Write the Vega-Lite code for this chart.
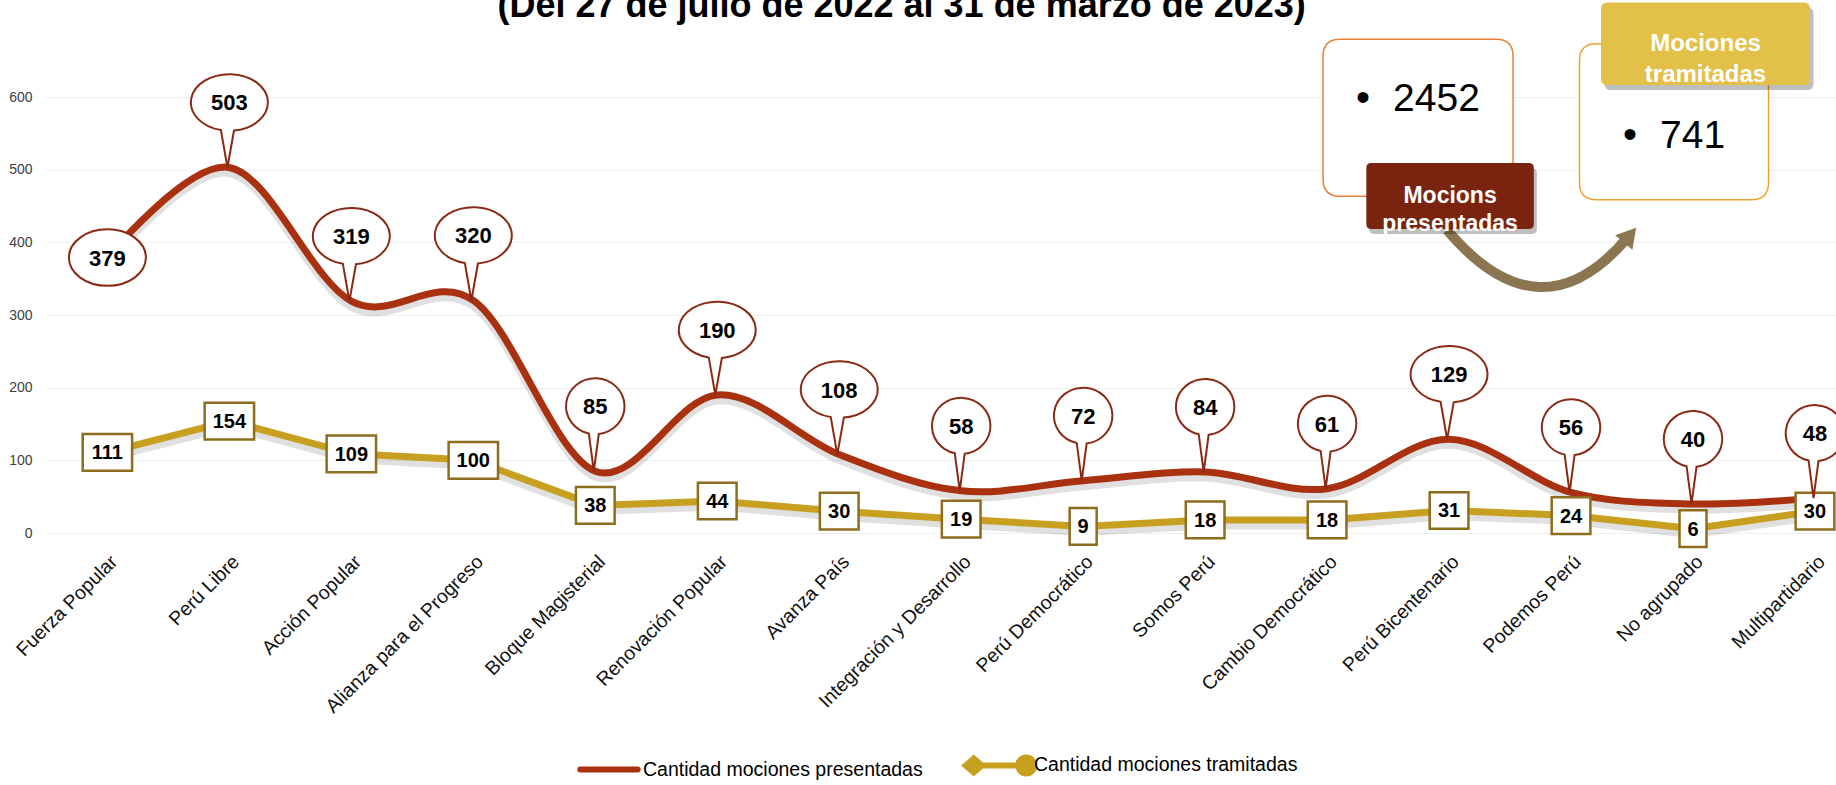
{
  "$schema": "https://vega.github.io/schema/vega-lite/v6.json",
  "width": 1791,
  "height": 436,
  "autosize": {"type": "none"},
  "padding": {"left": 45, "top": 97, "right": 0, "bottom": 252},
  "background": "white",
  "config": {"view": {"stroke": null}, "font": "Liberation Sans, Arial, sans-serif"},
  "data": {"values": [
    {"partido": "Fuerza Popular", "presentadas": 379, "tramitadas": 111},
    {"partido": "Perú Libre", "presentadas": 503, "tramitadas": 154},
    {"partido": "Acción Popular", "presentadas": 319, "tramitadas": 109},
    {"partido": "Alianza para el Progreso", "presentadas": 320, "tramitadas": 100},
    {"partido": "Bloque Magisterial", "presentadas": 85, "tramitadas": 38},
    {"partido": "Renovación Popular", "presentadas": 190, "tramitadas": 44},
    {"partido": "Avanza País", "presentadas": 108, "tramitadas": 30},
    {"partido": "Integración y Desarrollo", "presentadas": 58, "tramitadas": 19},
    {"partido": "Perú Democrático", "presentadas": 72, "tramitadas": 9},
    {"partido": "Somos Perú", "presentadas": 84, "tramitadas": 18},
    {"partido": "Cambio Democrático", "presentadas": 61, "tramitadas": 18},
    {"partido": "Perú Bicentenario", "presentadas": 129, "tramitadas": 31},
    {"partido": "Podemos Perú", "presentadas": 56, "tramitadas": 24},
    {"partido": "No agrupado", "presentadas": 40, "tramitadas": 6},
    {"partido": "Multipartidario", "presentadas": 48, "tramitadas": 30}
  ]},
  "encoding": {
    "x": {
      "field": "partido", "type": "nominal", "sort": null,
      "scale": {"type": "point", "padding": 0.342, "align": 0.748,
        "domain": ["Fuerza Popular", "Perú Libre", "Acción Popular", "Alianza para el Progreso", "Bloque Magisterial", "Renovación Popular", "Avanza País", "Integración y Desarrollo", "Perú Democrático", "Somos Perú", "Cambio Democrático", "Perú Bicentenario", "Podemos Perú", "No agrupado", "Multipartidario"]},
      "axis": {"title": null, "labelAngle": -45, "labelFontSize": 19.5, "labelColor": "#111", "labelPadding": 19, "labelLimit": 400, "ticks": false, "domain": false, "grid": false,
        "labelFont": "Liberation Sans, Arial, sans-serif"}
    }
  },
  "layer": [
    {
      "mark": {"type": "line", "color": "#000", "opacity": 0.12, "strokeWidth": 9, "yOffset": 5},
      "encoding": {"y": {"field": "tramitadas", "type": "quantitative", "scale": {"domain": [0, 600]},
        "axis": {"title": null, "values": [0, 100, 200, 300, 400, 500, 600], "labelFontSize": 14, "labelColor": "#404040", "labelPadding": 13, "ticks": false, "domain": false, "grid": true, "gridColor": "#efefef", "gridWidth": 1,
          "labelFont": "Liberation Sans, Arial, sans-serif"}}}
    },
    {
      "mark": {"type": "line", "interpolate": "cardinal", "color": "#000", "opacity": 0.12, "strokeWidth": 9, "yOffset": 5},
      "encoding": {"y": {"field": "presentadas", "type": "quantitative"}}
    },
    {
      "mark": {"type": "line", "strokeWidth": 7},
      "encoding": {
        "y": {"field": "tramitadas", "type": "quantitative"},
        "color": {"datum": "Cantidad  mociones tramitadas", "type": "nominal",
          "scale": {"domain": ["Cantidad mociones presentadas", "Cantidad  mociones tramitadas"], "range": ["#A9310F", "#C8A020"]},
          "legend": {
            "title": null, "orient": "none", "legendX": 526, "legendY": 630, "direction": "horizontal",
            "symbolSize": 4900, "symbolStrokeWidth": 6, "labelFontSize": 19.5, "labelColor": "#000", "labelOffset": -4,
            "columnPadding": 30, "labelLimit": 500, "padding": 0,
            "labelFont": "Liberation Sans, Arial, sans-serif",
            "encode": {"symbols": {"update": {
              "shape": {"signal": "datum.value === 'Cantidad mociones presentadas' ? 'M-0.82,0L0.82,0' : 'M-0.98,0L-0.75,-0.2L-0.52,0L-0.75,0.2Z M-0.52,0L0.52,0 M0.52,0A0.23,0.23,0,1,1,0.98,0A0.23,0.23,0,1,1,0.52,0Z'"},
              "fill": {"signal": "scale('color', datum.value)"},
              "stroke": {"signal": "scale('color', datum.value)"},
              "strokeCap": {"value": "round"}
            }}}
          }
        }
      }
    },
    {
      "mark": {"type": "line", "interpolate": "cardinal", "strokeWidth": 7},
      "encoding": {
        "y": {"field": "presentadas", "type": "quantitative"},
        "color": {"datum": "Cantidad mociones presentadas", "type": "nominal"}
      }
    },
    {
      "mark": {"type": "point", "filled": true, "fill": "white", "stroke": "#8C6E1E", "strokeWidth": 2.5, "opacity": 1},
      "encoding": {
        "y": {"field": "tramitadas", "type": "quantitative"},
        "shape": {"condition": [
          {"test": "datum.tramitadas >= 100", "value": "M-1,-0.743L1,-0.743L1,0.743L-1,0.743Z"},
          {"test": "datum.tramitadas >= 10", "value": "M-1,-0.948L1,-0.948L1,0.948L-1,0.948Z"}],
          "value": "M-1,-1.36L1,-1.36L1,1.36L-1,1.36Z"},
        "size": {"condition": [
          {"test": "datum.tramitadas >= 100", "value": 2440},
          {"test": "datum.tramitadas >= 10", "value": 1498}],
          "value": 729}
      }
    },
    {
      "mark": {"type": "text", "fontSize": 20, "fontWeight": "bold", "color": "#000", "baseline": "middle", "align": "center", "dy": 1,
        "font": "Liberation Sans, Arial, sans-serif"},
      "encoding": {
        "y": {"field": "tramitadas", "type": "quantitative"},
        "text": {"field": "tramitadas", "type": "quantitative", "format": "d"}
      }
    },
    {
      "transform": [{"filter": "datum.partido !== 'Fuerza Popular'"}],
      "mark": {"type": "point", "filled": true, "fill": "white", "stroke": "#8B2A14", "strokeWidth": 2, "opacity": 1, "yOffset": -65},
      "encoding": {
        "y": {"field": "presentadas", "type": "quantitative"},
        "shape": {"condition": {"test": "datum.presentadas >= 100", "value": "M0.12,0.7287A1,0.734,0,1,0,-0.22,0.716L-0.05,1.688Z"},
          "value": "M0.12,0.9501A1,0.957,0,1,0,-0.22,0.9336L-0.05,2.222Z"},
        "size": {"condition": {"test": "datum.presentadas >= 100", "value": 5929}, "value": 3422}
      }
    },
    {
      "transform": [{"filter": "datum.partido === 'Fuerza Popular'"}],
      "mark": {"type": "point", "filled": true, "fill": "white", "stroke": "#8B2A14", "strokeWidth": 2, "opacity": 1,
        "shape": "M-1,0A1,0.734,0,1,1,1,0A1,0.734,0,1,1,-1,0Z", "size": 5929},
      "encoding": {"y": {"field": "presentadas", "type": "quantitative"}}
    },
    {
      "transform": [{"filter": "datum.partido !== 'Fuerza Popular'"}],
      "mark": {"type": "text", "fontSize": 22, "fontWeight": "bold", "color": "#000", "baseline": "middle", "align": "center", "dy": -64,
        "font": "Liberation Sans, Arial, sans-serif"},
      "encoding": {
        "y": {"field": "presentadas", "type": "quantitative"},
        "text": {"field": "presentadas", "type": "quantitative", "format": "d"}
      }
    },
    {
      "transform": [{"filter": "datum.partido === 'Fuerza Popular'"}],
      "mark": {"type": "text", "fontSize": 22, "fontWeight": "bold", "color": "#000", "baseline": "middle", "align": "center", "dy": 1,
        "font": "Liberation Sans, Arial, sans-serif"},
      "encoding": {
        "y": {"field": "presentadas", "type": "quantitative"},
        "text": {"field": "presentadas", "type": "quantitative", "format": "d"}
      }
    },
    {
      "transform": [{"aggregate": [{"op": "sum", "field": "presentadas", "as": "total_presentadas"}]}],
      "mark": {"type": "text", "text": "(Del 27 de julio de 2022 al 31 de marzo de 2023)", "fontSize": 36, "fontWeight": "bold", "color": "#000",
        "align": "center", "baseline": "alphabetic", "dx": -59.6, "font": "Liberation Sans, Arial, sans-serif"},
      "encoding": {"x": {"datum": "Integración y Desarrollo", "type": "nominal"}, "y": {"datum": 710, "type": "quantitative"}}
    },
    {
      "transform": [{"aggregate": [{"op": "sum", "field": "presentadas", "as": "total_presentadas"}, {"op": "sum", "field": "tramitadas", "as": "total_tramitadas"}]}],
      "mark": {"type": "point", "filled": true, "fill": "white", "stroke": "#E8803A", "strokeWidth": 1.5, "opacity": 1, "xOffset": -31,
        "shape": "M-0.821,-0.826L0.821,-0.826Q1,-0.826,1,-0.647L1,0.647Q1,0.826,0.821,0.826L-0.821,0.826Q-1,0.826,-1,0.647L-1,-0.647Q-1,-0.826,-0.821,-0.826Z", "size": 36100},
      "encoding": {"x": {"datum": "Perú Bicentenario", "type": "nominal"}, "y": {"datum": 571.5, "type": "quantitative"}}
    },
    {
      "transform": [{"aggregate": [{"op": "sum", "field": "presentadas", "as": "total_presentadas"}, {"op": "sum", "field": "tramitadas", "as": "total_tramitadas"}]}],
      "mark": {"type": "point", "filled": true, "fill": "white", "stroke": "#F0A030", "strokeWidth": 1.5, "opacity": 1, "xOffset": -19,
        "shape": "M-0.821,-0.826L0.821,-0.826Q1,-0.826,1,-0.647L1,0.647Q1,0.826,0.821,0.826L-0.821,0.826Q-1,0.826,-1,0.647L-1,-0.647Q-1,-0.826,-0.821,-0.826Z", "size": 35721},
      "encoding": {"x": {"datum": "No agrupado", "type": "nominal"}, "y": {"datum": 566.0, "type": "quantitative"}}
    },
    {
      "transform": [{"aggregate": [{"op": "sum", "field": "presentadas", "as": "total_presentadas"}]}],
      "mark": {"type": "text", "text": "•", "fontSize": 40, "color": "#000", "align": "center", "baseline": "middle", "dx": -86,
        "font": "Liberation Sans, Arial, sans-serif"},
      "encoding": {"x": {"datum": "Perú Bicentenario", "type": "nominal"}, "y": {"datum": 597.2, "type": "quantitative"}}
    },
    {
      "transform": [{"aggregate": [{"op": "sum", "field": "presentadas", "as": "total_presentadas"}]}],
      "mark": {"type": "text", "fontSize": 39, "color": "#000", "align": "left", "baseline": "middle", "dx": -56,
        "font": "Liberation Sans, Arial, sans-serif"},
      "encoding": {"x": {"datum": "Perú Bicentenario", "type": "nominal"}, "y": {"datum": 597.2, "type": "quantitative"},
        "text": {"field": "total_presentadas", "type": "quantitative", "format": "d"}}
    },
    {
      "transform": [{"aggregate": [{"op": "sum", "field": "tramitadas", "as": "total_tramitadas"}]}],
      "mark": {"type": "text", "text": "•", "fontSize": 40, "color": "#000", "align": "center", "baseline": "middle", "dx": -63,
        "font": "Liberation Sans, Arial, sans-serif"},
      "encoding": {"x": {"datum": "No agrupado", "type": "nominal"}, "y": {"datum": 547.0, "type": "quantitative"}}
    },
    {
      "transform": [{"aggregate": [{"op": "sum", "field": "tramitadas", "as": "total_tramitadas"}]}],
      "mark": {"type": "text", "fontSize": 39, "color": "#000", "align": "left", "baseline": "middle", "dx": -33,
        "font": "Liberation Sans, Arial, sans-serif"},
      "encoding": {"x": {"datum": "No agrupado", "type": "nominal"}, "y": {"datum": 547.0, "type": "quantitative"},
        "text": {"field": "total_tramitadas", "type": "quantitative", "format": "d"}}
    },
    {
      "transform": [{"aggregate": [{"op": "sum", "field": "presentadas", "as": "total_presentadas"}]}],
      "mark": {"type": "point", "filled": false, "stroke": "#8B7651", "strokeWidth": 10, "opacity": 1, "xOffset": -31,
        "shape": "M-1.86,-0.56Q0.01,1.65,1.76,-0.42", "size": 10000},
      "encoding": {"x": {"datum": "Podemos Perú", "type": "nominal"}, "y": {"datum": 378.4, "type": "quantitative"}}
    },
    {
      "transform": [{"aggregate": [{"op": "sum", "field": "presentadas", "as": "total_presentadas"}]}],
      "mark": {"type": "point", "filled": true, "fill": "#8B7651", "opacity": 1, "xOffset": -63, "shape": "triangle-right", "angle": -50, "size": 500},
      "encoding": {"x": {"datum": "No agrupado", "type": "nominal"}, "y": {"datum": 410, "type": "quantitative"}}
    },
    {
      "transform": [{"aggregate": [{"op": "sum", "field": "presentadas", "as": "total_presentadas"}]}],
      "mark": {"type": "point", "filled": true, "fill": "#000", "opacity": 0.25, "xOffset": 4, "yOffset": 5,
        "shape": "M-0.94,-0.395L0.94,-0.395Q1,-0.395,1,-0.335L1,0.335Q1,0.395,0.94,0.395L-0.94,0.395Q-1,0.395,-1,0.335L-1,-0.335Q-1,-0.395,-0.94,-0.395Z", "size": 28056},
      "encoding": {"x": {"datum": "Perú Bicentenario", "type": "nominal"}, "y": {"datum": 463.8, "type": "quantitative"}}
    },
    {
      "transform": [{"aggregate": [{"op": "sum", "field": "presentadas", "as": "total_presentadas"}]}],
      "mark": {"type": "point", "filled": true, "fill": "#7A2410", "opacity": 1, "xOffset": 1,
        "shape": "M-0.94,-0.395L0.94,-0.395Q1,-0.395,1,-0.335L1,0.335Q1,0.395,0.94,0.395L-0.94,0.395Q-1,0.395,-1,0.335L-1,-0.335Q-1,-0.395,-0.94,-0.395Z", "size": 28056},
      "encoding": {"x": {"datum": "Perú Bicentenario", "type": "nominal"}, "y": {"datum": 463.8, "type": "quantitative"}}
    },
    {
      "transform": [{"aggregate": [{"op": "sum", "field": "presentadas", "as": "total_presentadas"}]}],
      "mark": {"type": "text", "text": ["Mocions", "presentadas"], "fontSize": 23, "fontWeight": "bold", "color": "#fff", "align": "center", "baseline": "middle", "lineHeight": 28, "dx": 1,
        "font": "Liberation Sans, Arial, sans-serif"},
      "encoding": {"x": {"datum": "Perú Bicentenario", "type": "nominal"}, "y": {"datum": 463.8, "type": "quantitative"}}
    },
    {
      "transform": [{"aggregate": [{"op": "sum", "field": "tramitadas", "as": "total_tramitadas"}]}],
      "mark": {"type": "point", "filled": true, "fill": "#000", "opacity": 0.25, "xOffset": 16, "yOffset": 5,
        "shape": "M-0.94,-0.395L0.94,-0.395Q1,-0.395,1,-0.335L1,0.335Q1,0.395,0.94,0.395L-0.94,0.395Q-1,0.395,-1,0.335L-1,-0.335Q-1,-0.395,-0.94,-0.395Z", "size": 43681},
      "encoding": {"x": {"datum": "No agrupado", "type": "nominal"}, "y": {"datum": 673.2, "type": "quantitative"}}
    },
    {
      "transform": [{"aggregate": [{"op": "sum", "field": "tramitadas", "as": "total_tramitadas"}]}],
      "mark": {"type": "point", "filled": true, "fill": "#E3C048", "opacity": 1, "xOffset": 12.5,
        "shape": "M-0.94,-0.395L0.94,-0.395Q1,-0.395,1,-0.335L1,0.335Q1,0.395,0.94,0.395L-0.94,0.395Q-1,0.395,-1,0.335L-1,-0.335Q-1,-0.395,-0.94,-0.395Z", "size": 43681},
      "encoding": {"x": {"datum": "No agrupado", "type": "nominal"}, "y": {"datum": 673.2, "type": "quantitative"}}
    },
    {
      "transform": [{"aggregate": [{"op": "sum", "field": "tramitadas", "as": "total_tramitadas"}]}],
      "mark": {"type": "text", "text": ["Mociones", "tramitadas"], "fontSize": 24, "fontWeight": "bold", "color": "#fff", "align": "center", "baseline": "middle", "lineHeight": 31, "dx": 12.5,
        "font": "Liberation Sans, Arial, sans-serif"},
      "encoding": {"x": {"datum": "No agrupado", "type": "nominal"}, "y": {"datum": 673.2, "type": "quantitative"}}
    }
  ]
}
